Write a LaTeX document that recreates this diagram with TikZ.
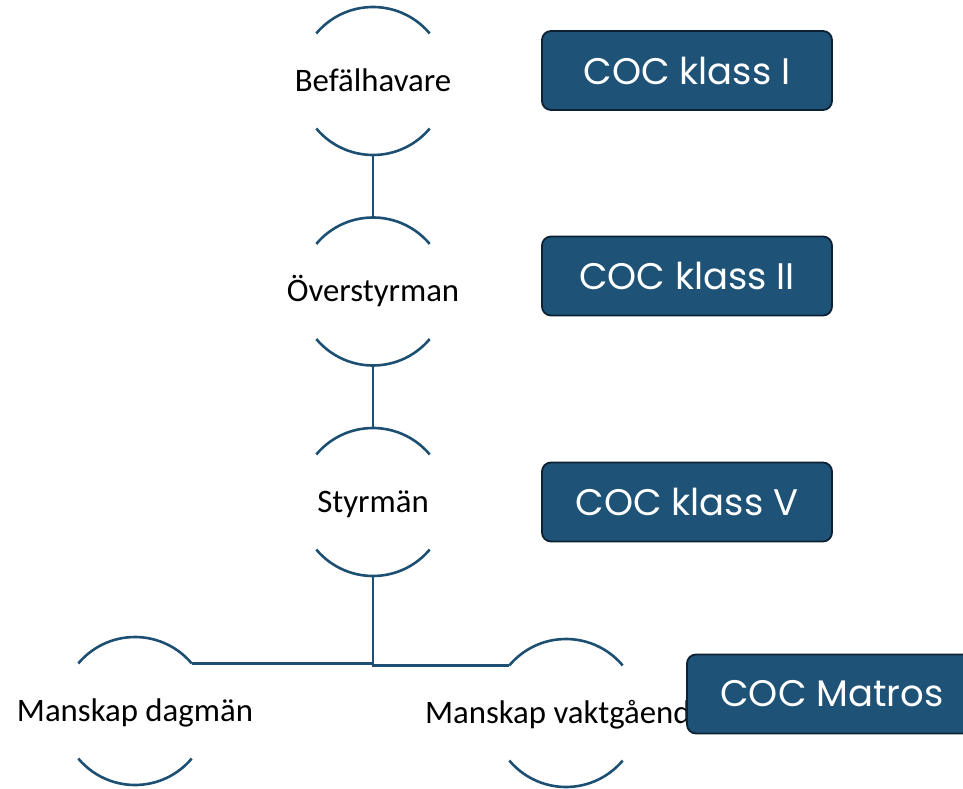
\documentclass[tikz,border=0pt]{standalone}
\usepackage{fontspec}
\setmainfont{Carlito}
\newfontfamily\cocfont{Poppins}
\definecolor{linec}{HTML}{1D4F73}
\definecolor{boxfill}{HTML}{1E5276}
\definecolor{boxedge}{HTML}{0C2234}
\begin{document}
\begin{tikzpicture}[x=1pt,y=1pt,
  ring/.style={circle,minimum size=148pt,inner sep=0pt,outer sep=0pt},
  arcline/.style={draw=linec,line width=2.6pt},
  conn/.style={draw=linec,line width=2.6pt},
  lbl/.style={anchor=base,inner sep=0pt,font=\fontsize{32.8}{38}\selectfont,text=black},
  cocbox/.style={rounded corners=9pt,fill=boxfill,draw=boxedge,line width=1.8pt,
    minimum width=290pt,minimum height=79pt,inner sep=0pt,text=white,
    font=\cocfont\fontsize{37}{44}\selectfont}]
\useasboundingbox (0,0) rectangle (963,788);
\clip (0,0) rectangle (963,788);
% ring nodes
\node[ring] (b) at (373,707) {};
\node[ring] (o) at (373,496.5) {};
\node[ring] (s) at (373,286) {};
\node[ring] (l) at (135,77) {};
\node[ring] (r) at (566,75) {};
% arcs
\foreach \n in {b,o,s,l,r}{
  \draw[arcline] (\n.40) arc[start angle=40,end angle=140,radius=74pt];
  \draw[arcline] (\n.220) arc[start angle=220,end angle=320,radius=74pt];
}
% connectors
\draw[conn] (b.south) -- (o.north);
\draw[conn] (o.south) -- (s.north);
\draw[conn] (s.south) |- (l.40);
\draw[conn] (s.south) |- (r.140);
% labels
\node[lbl] (tb) at ([yshift=-10.5pt]b.center) {Befälhavare};
\node[lbl] (to) at ([yshift=-10.5pt]o.center) {Överstyrman};
\node[lbl] (ts) at ([yshift=-10.5pt]s.center) {Styrmän};
\node[lbl] (tl) at ([yshift=-10.5pt]l.center) {Manskap dagmän};
\node[lbl] (tr) at ([yshift=-10.5pt]r.center) {Manskap vaktgående};
% COC boxes
\node[cocbox] (c1) at (687,717.5) {COC klass I};
\node[cocbox] (c2) at (687,512) {COC klass II};
\node[cocbox] (c3) at (687,286) {COC klass V};
\node[cocbox] (c4) at (832,94) {COC Matros};
\end{tikzpicture}
\end{document}
